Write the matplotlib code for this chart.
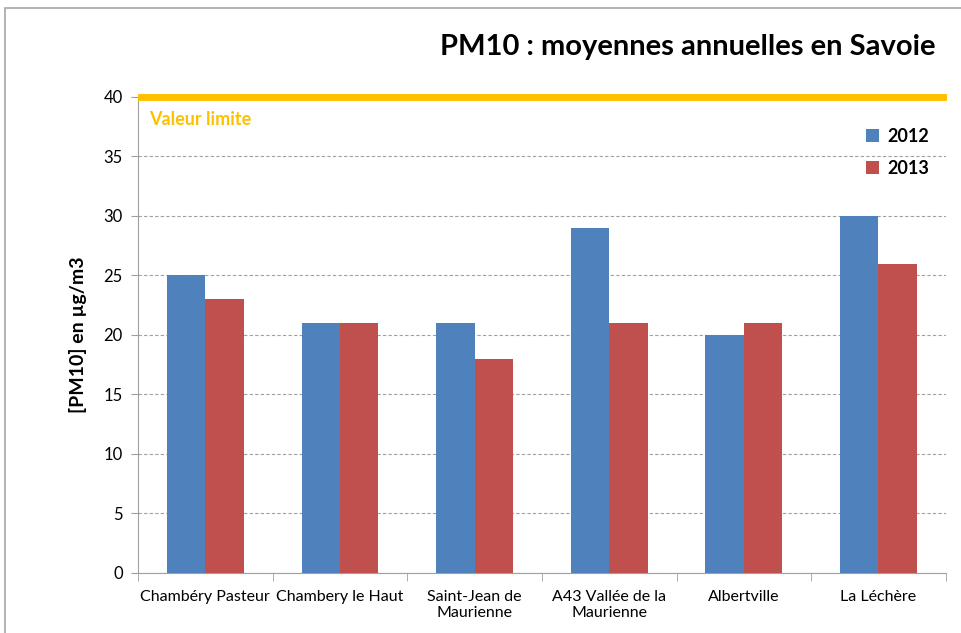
import matplotlib.pyplot as plt
import numpy as np
from matplotlib.patches import Rectangle

plt.rcParams['font.family'] = ['Lato', 'DejaVu Sans']

stations = ['Chambéry Pasteur', 'Chambery le Haut', 'Saint-Jean de\nMaurienne',
            'A43 Vallée de la\nMaurienne', 'Albertville', 'La Léchère']
pm_2012 = [25, 21, 21, 29, 20, 30]
pm_2013 = [23, 21, 18, 21, 21, 26]
years = ['2012', '2013']
limit = 40

fig = plt.figure(figsize=(9.61, 6.33), dpi=100)
ax = fig.add_axes([0.1436, 0.0948, 0.8406, 0.752])

# outer chart frame (only left and top visible)
fig.patches.append(Rectangle((5/961, -0.1), 1.2, 1 - 8/633 + 0.1, transform=fig.transFigure,
                             fill=False, edgecolor='#a6a6a6', linewidth=1.2))

x = np.arange(len(stations))
w = 0.285
ax.bar(x - w/2, pm_2012, w, color='#4f81bd', label=years[0], zorder=3)
ax.bar(x + w/2, pm_2013, w, color='#c0504d', label=years[1], zorder=3)

ax.set_xlim(-0.5, len(stations) - 0.5)
ax.set_ylim(0, 40)
ax.set_yticks(range(0, 41, 5))
ax.yaxis.grid(True, linestyle=(0, (3, 2)), color='#a0a0a0', linewidth=0.8, zorder=0)

ax.axhline(limit, xmin=0.004, xmax=0.996, color='#ffc000', linewidth=5, zorder=4,
           clip_on=False)
ax.text(0.014, 0.97, 'Valeur limite', transform=ax.transAxes, color='#ffc000',
        fontsize=13, fontweight='bold', va='top', ha='left')

ax.set_xticks(x)
ax.set_xticklabels(stations, fontsize=11.5)
ax.set_xticks(np.arange(-0.5, len(stations)), minor=True)
ax.tick_params(axis='x', which='major', length=0, pad=12)
ax.tick_params(axis='x', which='minor', length=6, color='#a0a0a0', direction='out')
ax.tick_params(axis='y', labelsize=12, length=5, color='#a0a0a0', pad=6)

for s in ['top', 'right']:
    ax.spines[s].set_visible(False)
for s in ['left', 'bottom']:
    ax.spines[s].set_color('#a0a0a0')

ax.set_ylabel('[PM10] en µg/m3', fontsize=14, fontweight='bold', labelpad=12)

leg = ax.legend(loc='upper right', bbox_to_anchor=(1.0, 0.97), frameon=False,
                prop={'size': 13, 'weight': 'bold'}, handlelength=0.7, handleheight=0.7,
                labelspacing=0.85, handletextpad=0.5)

fig.text(0.973, 0.925, 'PM10 : moyennes annuelles en Savoie', ha='right', va='center',
         fontsize=21, fontweight='bold')

fig.savefig('out.png', dpi=100)
